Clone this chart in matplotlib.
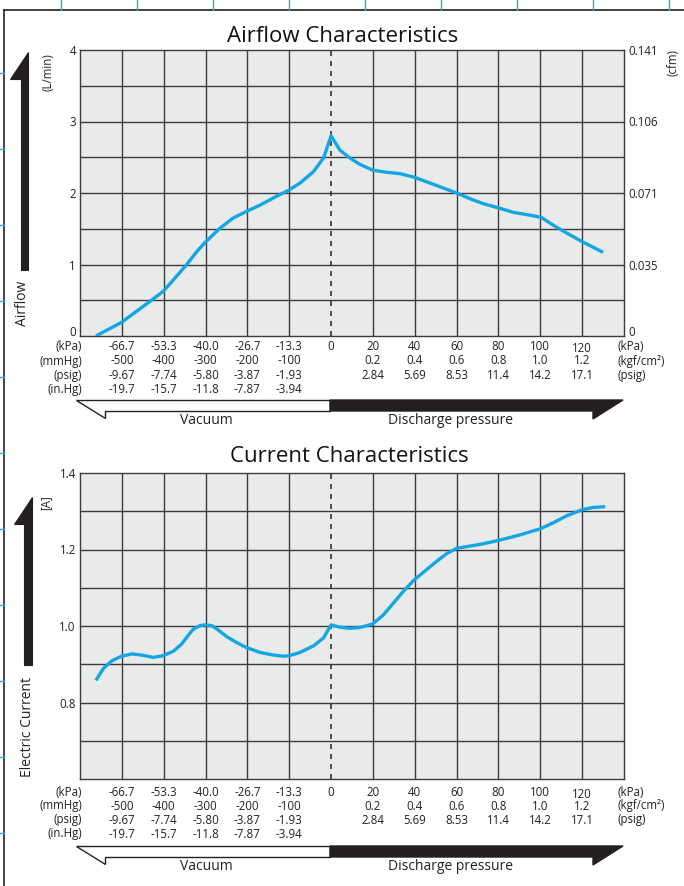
import matplotlib
matplotlib.use("Agg")
import matplotlib.pyplot as plt
from matplotlib.patches import Polygon
import numpy as np

plt.rcParams['font.family'] = ['Open Sans', 'DejaVu Sans']

# ---------------- data (x = grid position; 0 kPa at position 6) ----------------
air_x = [0.38, 0.99, 1.50, 1.98, 2.27, 2.55, 2.79, 2.99, 3.35, 3.66, 3.97, 4.30, 4.62, 4.99,
         5.26, 5.58, 5.82, 6.0,
         6.21, 6.45, 6.69, 6.99, 7.33, 7.65, 7.99, 8.36, 8.68, 9.0, 9.32, 9.64, 10.01,
         10.35, 10.75, 11.02, 11.31, 11.63, 12.0, 12.5]
air_y = [0.0, 0.19, 0.41, 0.62, 0.81, 1.00, 1.18, 1.31, 1.51, 1.65, 1.74, 1.83, 1.93, 2.04,
         2.14, 2.30, 2.49, 2.80,
         2.60, 2.49, 2.40, 2.32, 2.29, 2.27, 2.22, 2.14, 2.07, 2.0, 1.92, 1.85, 1.79,
         1.73, 1.69, 1.66, 1.55, 1.44, 1.32, 1.17]

cur_x = [0.38, 0.56, 0.76, 0.99, 1.24, 1.47, 1.75, 1.98, 2.23, 2.43, 2.59, 2.71, 2.87, 2.99,
         3.15, 3.31, 3.51, 3.74, 3.97, 4.30, 4.62, 4.86, 4.99, 5.26, 5.58, 5.82, 6.0,
         6.21, 6.45, 6.69, 6.99, 7.25, 7.49, 7.73, 7.99, 8.28, 8.52, 8.76, 9.0, 9.32, 9.64,
         10.01, 10.51, 11.02, 11.31, 11.63, 12.0, 12.27, 12.55]
cur_y = [0.858, 0.889, 0.909, 0.921, 0.927, 0.924, 0.918, 0.922, 0.934, 0.953, 0.976, 0.992,
         1.001, 1.003, 1.001, 0.989, 0.972, 0.957, 0.944, 0.931, 0.924, 0.921, 0.922, 0.931,
         0.948, 0.969, 1.003,
         0.997, 0.994, 0.996, 1.005, 1.029, 1.060, 1.091, 1.121, 1.147, 1.169, 1.189, 1.203,
         1.209, 1.215, 1.224, 1.238, 1.255, 1.270, 1.288, 1.304, 1.310, 1.312]

vac_pos = [1, 2, 3, 4, 5]
kpa_vac = ['-66.7', '-53.3', '-40.0', '-26.7', '-13.3']
mmhg_vac = ['-500', '-400', '-300', '-200', '-100']
psig_vac = ['-9.67', '-7.74', '-5.80', '-3.87', '-1.93']
inhg_vac = ['-19.7', '-15.7', '-11.8', '-7.87', '-3.94']
dis_pos = [7, 8, 9, 10, 11, 12]
kpa_dis = ['20', '40', '60', '80', '100', '120']
kgf_dis = ['0.2', '0.4', '0.6', '0.8', '1.0', '1.2']
psig_dis = ['2.84', '5.69', '8.53', '11.4', '14.2', '17.1']
left_units = ['(kPa)', '(mmHg)', '(psig)', '(in.Hg)']
right_units = ['(kPa)', '(kgf/cm²)', '(psig)']

air_ticks = [0, 1, 2, 3, 4]
air_tick_labels = ['0', '1', '2', '3', '4']
cfm_tick_labels = ['0', '0.035', '0.071', '0.106', '0.141']
cur_ticks = [0.8, 1.0, 1.2, 1.4]
cur_tick_labels = ['0.8', '1.0', '1.2', '1.4']

# ---------------- figure ----------------
W, H = 684, 886
fig = plt.figure(figsize=(W / 100, H / 100), dpi=100)
fig.patch.set_facecolor('white')

ov = fig.add_axes([0, 0, 1, 1], zorder=0)
ov.set_xlim(0, W)
ov.set_ylim(H, 0)
ov.axis('off')
ov.patch.set_alpha(0)

# page frame and blue marks
ov.plot([4, W], [10, 10], color='#222222', lw=1.2)
ov.plot([4, 4], [10, H], color='#222222', lw=1.2)
for k in range(9):
    x = 60.7 + 76 * k
    ov.plot([x, x], [0, 10], color='#29aae2', lw=1.0)
for k in range(11):
    y = 73 + 76 * k
    ov.plot([0, 4], [y, y], color='#29aae2', lw=1.0)

LINE = '#14a6e3'
GRID = '#3c3c3c'
BG = '#e9eaea'
FS = 8.3
TXT = '#222222'


def px_rect(l, t, r, b):
    return [l / W, 1 - b / H, (r - l) / W, (b - t) / H]


def style_axes(ax, ylim, yrows):
    ax.set_facecolor(BG)
    ax.set_xlim(0, 13)
    ax.set_ylim(*ylim)
    for xv in range(1, 13):
        if xv == 6:
            continue
        ax.axvline(xv, color=GRID, lw=1.0, zorder=1)
    for yv in yrows:
        ax.axhline(yv, color=GRID, lw=1.0, zorder=1)
    ax.axvline(6, color='#333333', lw=1.2, ls=(0, (3, 3)), zorder=2)
    for s in ax.spines.values():
        s.set_color(GRID)
        s.set_linewidth(1.0)
    ax.set_xticks([])
    ax.tick_params(axis='y', length=0, pad=3, labelsize=FS, colors=TXT)


def tables(y0):
    rows = [kpa_vac, mmhg_vac, psig_vac, inhg_vac]
    for i, lab in enumerate(left_units):
        ov.text(82, y0 + 14 * i, lab, ha='right', va='center', fontsize=FS, color=TXT)
    for i, vals in enumerate(rows):
        for p, v in zip(vac_pos, vals):
            ov.text(80 + p * 41.85, y0 + 14 * i, v, ha='center', va='center', fontsize=FS, color=TXT)
    ov.text(80 + 6 * 41.85, y0, '0', ha='center', va='center', fontsize=FS, color=TXT)
    drows = [kpa_dis, kgf_dis, psig_dis]
    for i, vals in enumerate(drows):
        for p, v in zip(dis_pos, vals):
            dy = 2 if (i == 0 and p == 12) else 0
            ov.text(80 + p * 41.85, y0 + 14 * i + dy, v, ha='center', va='center', fontsize=FS, color=TXT)
    for i, lab in enumerate(right_units):
        ov.text(617, y0 + 14 * i, lab, ha='left', va='center', fontsize=FS, color=TXT)


def bottom_arrows(yt):
    vac = Polygon([(76, yt), (330, yt), (330, yt + 11), (105, yt + 11), (105, yt + 18)],
                  closed=True, facecolor='white', edgecolor='#222222', lw=1.0)
    dis = Polygon([(330, yt), (623, yt), (593, yt + 19), (593, yt + 11), (330, yt + 11)],
                  closed=True, facecolor='#231f20', edgecolor='#231f20', lw=1.0)
    ov.add_patch(vac)
    ov.add_patch(dis)
    ov.text(206, yt + 20, 'Vacuum', ha='center', va='center', fontsize=10, color=TXT)
    ov.text(450, yt + 20, 'Discharge pressure', ha='center', va='center', fontsize=10, color=TXT)


def up_arrow(xr, ytip, ybot, shaft_w=7.5, head_w=18, head_h=27):
    xl = xr - shaft_w
    poly = Polygon([(xr, ytip), (xr, ybot), (xl, ybot), (xl, ytip + head_h),
                    (xr - head_w, ytip + head_h)], closed=True,
                   facecolor='#231f20', edgecolor='#231f20', lw=0.8)
    ov.add_patch(poly)


# ---------------- Airflow chart ----------------
ax1 = fig.add_axes(px_rect(80, 50, 624, 336), zorder=1)
style_axes(ax1, (0, 4), np.arange(0.5, 4, 0.5))
ax1.plot(air_x, air_y, color=LINE, lw=2.4, solid_capstyle='butt', solid_joinstyle='round', zorder=3)
ax1.set_yticks(air_ticks)
ax1.set_yticklabels(air_tick_labels)
ax1.get_yticklabels()[0].set_verticalalignment('baseline')
ax1r = ax1.twinx()
ax1r.set_ylim(0, 4)
ax1r.set_yticks(air_ticks)
ax1r.set_yticklabels(cfm_tick_labels)
ax1r.tick_params(axis='y', length=0, pad=3, labelsize=FS, colors=TXT)
ax1r.get_yticklabels()[0].set_verticalalignment('baseline')
for s in ax1r.spines.values():
    s.set_visible(False)

ov.text(343, 36, 'Airflow Characteristics', ha='center', va='center', fontsize=16, color='#111111')
ov.text(48, 72, '(L/min)', ha='center', va='center', rotation=90, fontsize=FS, color=TXT)
ov.text(673, 63, '(cfm)', ha='center', va='center', rotation=90, fontsize=FS, color=TXT)
ov.text(23, 303, 'Airflow', ha='center', va='center', rotation=90, fontsize=10, color=TXT)
up_arrow(28, 52, 270)
tables(347)
bottom_arrows(400)

# ---------------- Current chart ----------------
ax2 = fig.add_axes(px_rect(80, 473, 624, 779), zorder=1)
style_axes(ax2, (0.6, 1.4), np.arange(0.7, 1.4, 0.1))
ax2.plot(cur_x, cur_y, color=LINE, lw=2.4, solid_capstyle='butt', solid_joinstyle='round', zorder=3)
ax2.set_yticks(cur_ticks)
ax2.set_yticklabels(cur_tick_labels)

ov.text(349, 456, 'Current Characteristics', ha='center', va='center', fontsize=16, color='#111111')
ov.text(46, 503, '[A]', ha='center', va='center', rotation=90, fontsize=FS, color=TXT)
ov.text(28, 727, 'Electric Current', ha='center', va='center', rotation=90, fontsize=10, color=TXT)
up_arrow(31.5, 497, 665)
tables(792)
bottom_arrows(846)

fig.savefig('out.png', dpi=100)
